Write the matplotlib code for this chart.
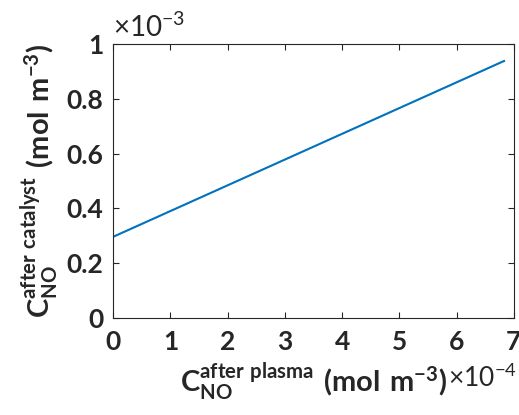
import matplotlib
matplotlib.use('Agg')
import matplotlib.pyplot as plt

# values shown in units of 1e-4 (x) and 1e-3 (y)
x_after_plasma = [0.0, 6.83]
y_after_catalyst = [0.296, 0.938]
x_ticks = [0, 1, 2, 3, 4, 5, 6, 7]
y_ticks = [0, 0.2, 0.4, 0.6, 0.8, 1]
y_tick_labels = ['0', '0.2', '0.4', '0.6', '0.8', '1']

plt.rcParams['font.family'] = ['Lato', 'DejaVu Sans']
plt.rcParams['mathtext.fontset'] = 'custom'
plt.rcParams['mathtext.rm'] = 'Lato'
plt.rcParams['mathtext.bf'] = 'Lato:bold'

fig = plt.figure(figsize=(5.19, 4.15), dpi=100)
ax = fig.add_axes([0.218, 0.234, 0.772, 0.66])

ax.plot(x_after_plasma, y_after_catalyst, color='#0072BD', linewidth=1.5)

ax.set_xlim(0, 7)
ax.set_ylim(0, 1)
ax.set_xticks(x_ticks)
ax.set_yticks(y_ticks)
ax.set_yticklabels(y_tick_labels)
ax.tick_params(direction='in', top=True, right=True, length=4, width=0.8,
               color='#262626', labelsize=19)
ax.tick_params(axis='x', pad=9)
ax.tick_params(axis='y', pad=7)
for lab in ax.get_xticklabels() + ax.get_yticklabels():
    lab.set_fontweight('bold')
    lab.set_color('#262626')
for sp in ax.spines.values():
    sp.set_color('#262626')
    sp.set_linewidth(0.8)

ax.set_xlabel(r'$\mathbf{C}_{\mathbf{NO}}^{\mathbf{after\ plasma}}\ \mathbf{(mol\ m^{-3})}$',
              fontsize=21, color='#262626', labelpad=5)
ax.set_ylabel(r'$\mathbf{C}_{\mathbf{NO}}^{\mathbf{after\ catalyst}}\ \mathbf{(mol\ m^{-3})}$',
              fontsize=21, color='#262626', labelpad=3)

fig.text(0.863, 0.088, r'$\times\mathrm{10^{-4}}$', fontsize=19, color='#262626',
         ha='left', va='center')
fig.text(0.218, 0.934, r'$\times\mathrm{10^{-3}}$', fontsize=20, color='#262626',
         ha='left', va='center')

fig.savefig('out.png', dpi=100, facecolor='white')
